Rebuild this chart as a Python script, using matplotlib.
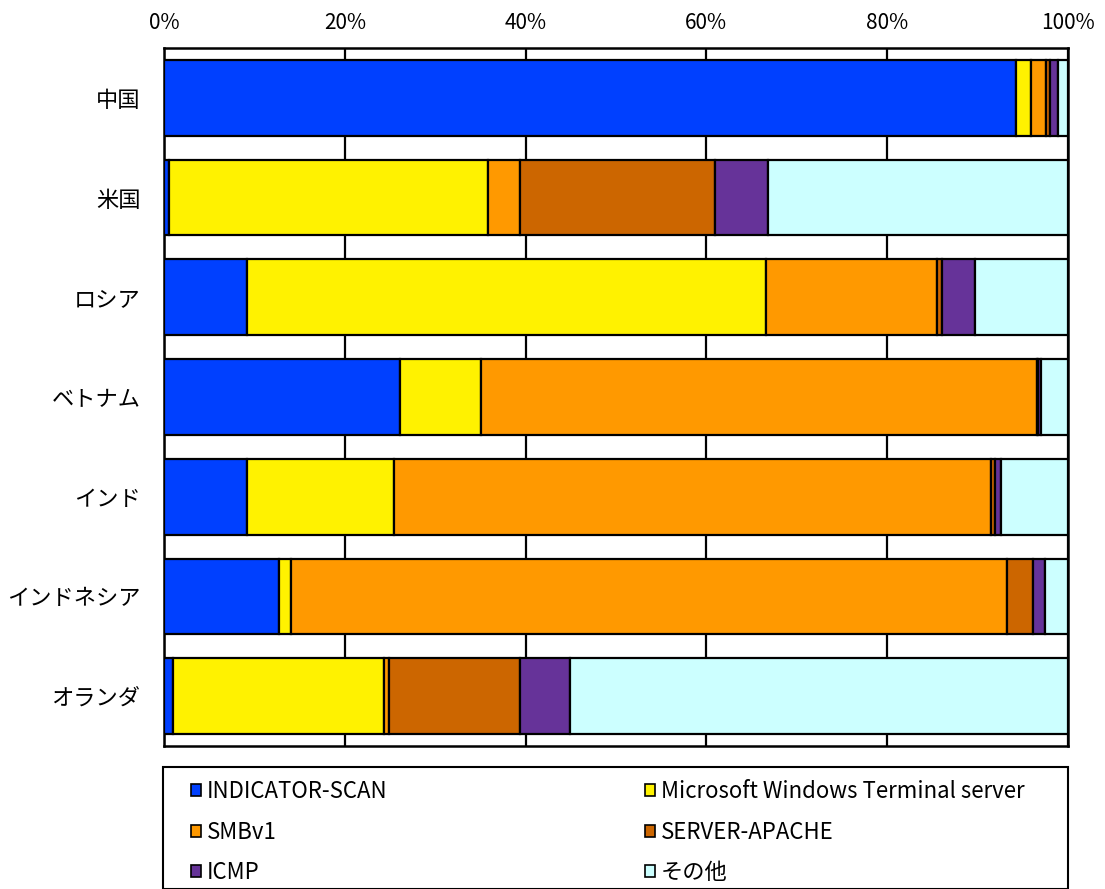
import numpy as np
import matplotlib.pyplot as plt
from matplotlib.patches import Patch, Rectangle
from matplotlib.ticker import FuncFormatter

plt.rcParams["font.family"] = ["Noto Sans CJK JP", "DejaVu Sans"]

# countries (top to bottom)
countries = ["中国", "米国", "ロシア", "ベトナム", "インド", "インドネシア", "オランダ"]

# share of each signature per country (%)
indicator_scan = [94.3, 0.6, 9.2, 26.1, 9.2, 12.7, 1.0]
ms_terminal = [1.6, 35.2, 57.4, 9.0, 16.2, 1.4, 23.3]
smbv1 = [1.7, 3.6, 18.9, 61.5, 66.1, 79.1, 0.6]
server_apache = [0.4, 21.5, 0.6, 0.1, 0.4, 2.9, 14.5]
icmp = [0.9, 5.9, 3.6, 0.3, 0.7, 1.4, 5.5]
other = [1.1, 33.2, 10.3, 3.0, 7.4, 2.5, 55.1]

series_names = ["INDICATOR-SCAN", "Microsoft Windows Terminal server", "SMBv1",
                "SERVER-APACHE", "ICMP", "その他"]
series_vals = [indicator_scan, ms_terminal, smbv1, server_apache, icmp, other]
colors = ["#0040FF", "#FFF200", "#FF9900", "#CC6600", "#663399", "#CCFFFF"]

fig = plt.figure(figsize=(11.05, 8.89), dpi=100)
ax = fig.add_axes([164 / 1105, 1 - 746 / 889, 904 / 1105, 698 / 889])

y = np.arange(len(countries))
left = np.zeros(len(countries))
for name, vals, c in zip(series_names, series_vals, colors):
    vals = np.array(vals)
    ax.barh(y, vals, left=left, height=0.76, color=c, edgecolor="black",
            linewidth=1.6, label=name, zorder=3)
    left += vals

ax.set_xlim(0, 100)
ax.set_ylim(len(countries) - 0.5, -0.5)
ax.set_yticks(y)
ax.set_yticklabels(countries, fontsize=16)
ax.set_xticks(np.arange(0, 101, 20))
ax.xaxis.set_major_formatter(FuncFormatter(lambda v, p: f"{v:.0f}%"))
ax.xaxis.tick_top()
ax.tick_params(axis="x", length=0, pad=10, labelsize=15)
ax.tick_params(axis="y", length=0, pad=17)
ax.grid(axis="x", color="black", linewidth=1.6, zorder=0)
ax.set_axisbelow(True)
for s in ax.spines.values():
    s.set_linewidth(1.8)

# legend box, entries laid out row by row (legend fills columns first)
fig.patches.append(Rectangle((163 / 1105, 0), 905 / 1105, (889 - 767) / 889,
                             transform=fig.transFigure, facecolor="white",
                             edgecolor="black", linewidth=1.5, clip_on=False))
handles = [Patch(facecolor=c, edgecolor="black", linewidth=1.2) for c in colors]
order = [0, 2, 4, 1, 3, 5]
fig.legend([handles[i] for i in order], [series_names[i] for i in order],
           ncol=2, loc="upper left",
           bbox_to_anchor=(180 / 1105, 1 - 769 / 889), frameon=False,
           fontsize=16, handlelength=0.45, handleheight=0.45, handletextpad=0.25,
           labelspacing=0.79, columnspacing=11.6, borderpad=0)

fig.savefig("out.png", dpi=100)
